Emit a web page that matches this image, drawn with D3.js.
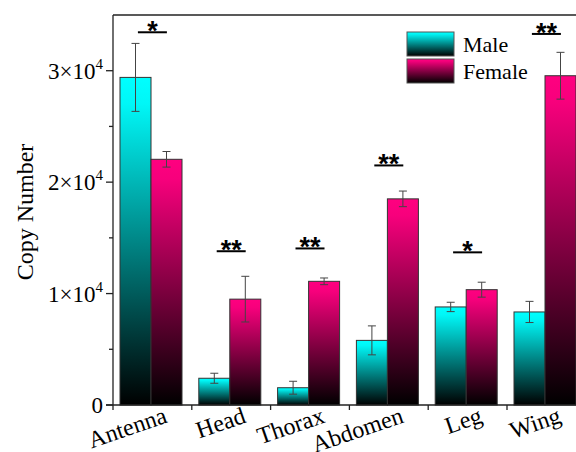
<!DOCTYPE html>
<html><head><meta charset="utf-8">
<script src="https://cdn.jsdelivr.net/npm/d3@7"></script>
<style>body{margin:0;background:#fff}svg{display:block}</style>
</head><body>
<svg id="c" width="576" height="452"></svg>
<script>
const categories = ["Antenna","Head","Thorax","Abdomen","Leg","Wing"];
const seriesNames = ["Male","Female"];
const maleValues = [29400, 2400, 1550, 5800, 8800, 8350];
const maleErrors = [3050, 450, 580, 1300, 420, 950];
const femaleValues = [22050, 9500, 11100, 18500, 10350, 29550];
const femaleErrors = [700, 2050, 300, 700, 670, 2100];
const sigLabels = ["*","**","**","**","*","**"];
const sigHeights = [33450, 13800, 14050, 21500, 13700, 33300];
const yTicks = [0, 10000, 20000, 30000];
const yMinorTicks = [5000, 15000, 25000];

(function(){
const svg = d3.select("#c");
const SERIF = '"Liberation Serif"';
const SANS = '"Liberation Sans"';
const mLeft = 113, mTop = 15, mBottom = 405, step = 78.8;
const x = d3.scaleBand().domain(categories).range([mLeft, mLeft + step*categories.length]).paddingInner(0).paddingOuter(0);
const inner = d3.scaleBand().domain(seriesNames).range([7, 69]);
const y = d3.scaleLinear().domain([0, 35000]).range([mBottom, mTop]);

const colors = {Male:"#00FFFF", Female:"#FF0080"};
const defs = svg.append("defs");
seriesNames.forEach(s => {
  const g = defs.append("linearGradient").attr("id","g"+s).attr("x1",0).attr("y1",0).attr("x2",0).attr("y2",1);
  g.append("stop").attr("offset","0%").attr("stop-color",colors[s]);
  g.append("stop").attr("offset","8%").attr("stop-color",d3.interpolateRgb(colors[s],"#000")(0.03));
  g.append("stop").attr("offset","100%").attr("stop-color","#000");
});

const data = [];
categories.forEach((c,i) => {
  data.push({c, s:"Male", v:maleValues[i], e:maleErrors[i]});
  data.push({c, s:"Female", v:femaleValues[i], e:femaleErrors[i]});
});

svg.append("g").selectAll("rect").data(data).join("rect")
  .attr("x", d => x(d.c) + inner(d.s))
  .attr("width", inner.bandwidth())
  .attr("y", d => y(d.v))
  .attr("height", d => y(0) - y(d.v))
  .attr("fill", d => `url(#g${d.s})`)
  .attr("stroke", "#333").attr("stroke-width", 1);

const eg = svg.append("g").attr("stroke","#444").attr("stroke-width",1);
data.forEach(d => {
  const cx = x(d.c) + inner(d.s) + inner.bandwidth()/2;
  eg.append("line").attr("x1",cx).attr("x2",cx).attr("y1",y(d.v+d.e)).attr("y2",y(d.v-d.e));
  [d.v+d.e, d.v-d.e].forEach(v => eg.append("line").attr("x1",cx-4).attr("x2",cx+4).attr("y1",y(v)).attr("y2",y(v)));
});

categories.forEach((c,i) => {
  const cx = x(c) + x.bandwidth()/2;
  const yy = y(sigHeights[i]);
  svg.append("line").attr("x1",cx-14.5).attr("x2",cx+14.5).attr("y1",yy).attr("y2",yy).attr("stroke","#000").attr("stroke-width",2);
  svg.append("text").style("font-family",SANS).style("font-weight","bold").style("font-size","27px")
    .attr("x",cx).attr("y",yy+8).attr("text-anchor","middle")
    .text(sigLabels[i]);
});

const ax = svg.append("g").attr("stroke","#222").attr("stroke-width",1.3).attr("fill","none");
ax.append("line").attr("x1",mLeft).attr("x2",mLeft).attr("y1",mTop).attr("y2",mBottom);
ax.append("line").attr("x1",mLeft).attr("x2",576).attr("y1",mTop).attr("y2",mTop);
ax.append("line").attr("x1",mLeft-7).attr("x2",576).attr("y1",mBottom).attr("y2",mBottom);
yTicks.forEach(t => ax.append("line").attr("x1",mLeft-7).attr("x2",mLeft).attr("y1",y(t)).attr("y2",y(t)));
yMinorTicks.forEach(t => ax.append("line").attr("x1",mLeft-4).attr("x2",mLeft).attr("y1",y(t)).attr("y2",y(t)));
categories.forEach(c => ax.append("line").attr("x1",x(c)).attr("x2",x(c)).attr("y1",mBottom).attr("y2",mBottom+5));

yTicks.forEach(t => {
  const tx = svg.append("text").style("font-family",SERIF).style("font-size","23px")
    .attr("x",mLeft-10).attr("y",y(t)+8).attr("text-anchor","end").attr("fill","#000");
  if (t === 0) { tx.text("0"); }
  else {
    tx.append("tspan").text((t/10000) + "×10");
    tx.append("tspan").attr("dy",-10).style("font-size","15px").text("4");
  }
});

categories.forEach(c => {
  const cx = x(c) + x.bandwidth()/2 + 16;
  svg.append("text").style("font-family",SERIF).style("font-size","24px")
    .attr("transform",`translate(${cx},${mBottom+17}) rotate(-19)`)
    .attr("text-anchor","end").text(c);
});

svg.append("text").style("font-family",SERIF).style("font-size","24px")
  .attr("transform","translate(33,212) rotate(-90)").attr("text-anchor","middle")
  .text("Copy Number");

seriesNames.forEach((s,i) => {
  const ly = 32 + i*27;
  svg.append("rect").attr("x",407).attr("y",ly).attr("width",47).attr("height",24)
    .attr("fill",`url(#g${s})`).attr("stroke","#555").attr("stroke-width",1);
  svg.append("text").style("font-family",SERIF).style("font-size","22px")
    .attr("x",463).attr("y",ly+20).text(s);
});
})();
</script>
</body></html>
